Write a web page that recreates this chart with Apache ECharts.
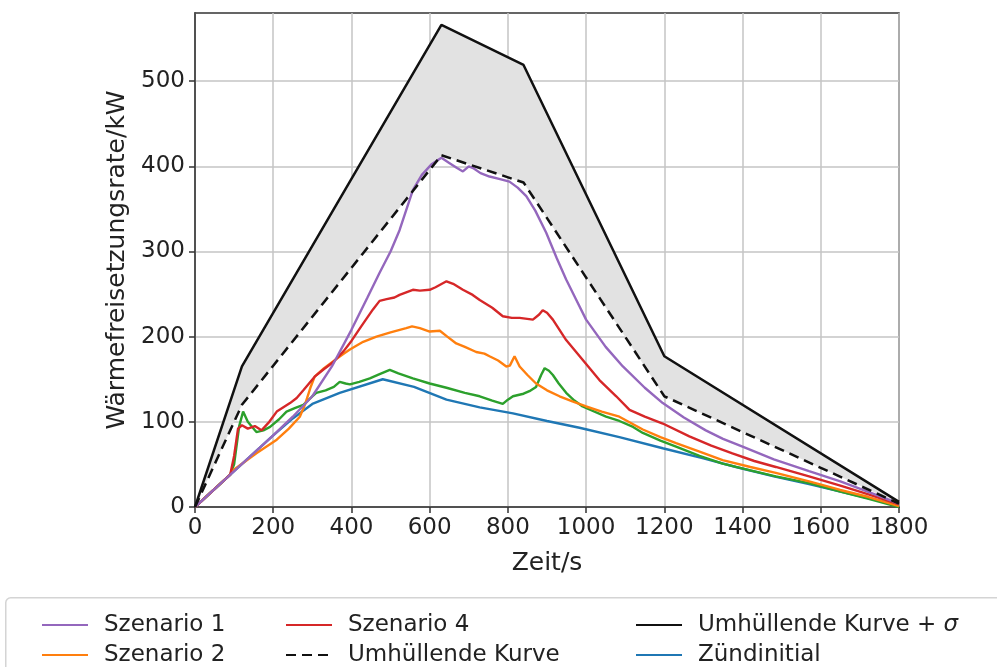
<!DOCTYPE html>
<html>
<head>
<meta charset="utf-8">
<script src="https://cdn.jsdelivr.net/npm/echarts@6/dist/echarts.min.js"></script>
<style>
  html, body { margin: 0; padding: 0; background: #fff; }
  #chart { width: 997px; height: 667px; }
</style>
</head>
<body>
<div id="chart"></div>
<script>
// Axis ticks
const xTicks = [0, 200, 400, 600, 800, 1000, 1200, 1400, 1600, 1800];
const yTicks = [0, 100, 200, 300, 400, 500];

// Heat release rate curves: [time in s, rate in kW]
const szenario1 = [[0,0],[100,42],[200,84],[250,106],[300,130],[350,165],[400,208],[440,245],[472,275],[500,300],[523,325],[557,372],[580,390],[604,402],[630,410],[650,404],[670,398],[685,394],[700,400],[711,398],[730,392],[753,388],[780,385],[804,382],[825,375],[847,365],[870,348],[898,322],[925,292],[949,267],[975,243],[1000,220],[1050,188],[1094,165],[1150,140],[1196,122],[1250,105],[1306,90],[1350,80],[1400,71],[1480,56],[1570,42],[1650,30],[1720,18],[1800,4]];

const szenario2 = [[0,0],[90,38],[100,44],[157,63],[209,79],[240,92],[268,106],[281,120],[295,140],[306,153],[330,163],[353,171],[380,180],[396,185],[430,194],[464,200],[500,205],[540,210],[555,212],[575,210],[600,206],[626,207],[645,200],[668,192],[690,188],[719,182],[740,180],[753,177],[775,172],[796,165],[805,166],[817,177],[830,165],[850,155],[872,145],[900,137],[932,130],[965,124],[1000,118],[1040,112],[1085,106],[1145,91],[1190,82],[1230,75],[1290,65],[1349,55],[1420,47],[1485,40],[1570,30],[1650,20],[1720,12],[1800,1]];

const szenario3 = [[0,0],[90,38],[100,50],[113,95],[123,112],[135,100],[157,88],[175,90],[192,94],[215,103],[234,112],[255,116],[277,120],[300,130],[310,134],[334,137],[355,141],[370,147],[385,145],[396,144],[420,147],[447,151],[472,156],[498,161],[520,157],[557,151],[600,145],[643,140],[690,134],[728,130],[760,125],[787,121],[800,126],[813,130],[840,133],[855,136],[872,141],[885,155],[894,163],[905,160],[915,155],[930,145],[949,134],[970,125],[991,118],[1051,106],[1085,101],[1120,94],[1145,87],[1190,78],[1230,71],[1290,60],[1349,51],[1420,43],[1485,36],[1570,28],[1650,18],[1720,10],[1800,0]];

const szenario4 = [[0,0],[90,38],[100,60],[110,92],[120,96],[135,92],[153,95],[170,90],[190,100],[209,112],[243,122],[260,128],[277,137],[306,153],[330,162],[353,170],[380,183],[400,195],[425,212],[455,232],[472,242],[490,244],[510,246],[523,249],[540,252],[557,255],[575,254],[600,255],[615,258],[643,265],[660,262],[685,255],[710,249],[728,243],[760,234],[787,224],[810,222],[830,222],[864,220],[880,226],[889,231],[900,228],[915,220],[949,196],[991,173],[1034,149],[1077,130],[1111,114],[1150,106],[1196,98],[1264,83],[1320,72],[1374,63],[1430,54],[1485,47],[1570,36],[1650,25],[1720,15],[1800,3]];

const zuendinitial = [[0,0],[100,42],[200,84],[250,104],[300,121],[370,134],[480,150],[560,141],[643,126],[728,117],[813,110],[900,101],[983,93],[1085,82],[1196,69],[1300,57],[1383,47],[1480,36],[1570,27],[1680,15],[1800,2]];

const umhuellende = [[0,0],[120,120],[630,413],[840,381],[1200,130],[1800,4]];
const umhuellendeSigma = [[0,0],[120,165],[630,566],[840,519],[1200,177],[1800,6]];

const FONT = 'DejaVu Sans';
const chart = echarts.init(document.getElementById('chart'), null, { renderer: 'canvas' });

function lineSeries(name, data, color, extra) {
  return Object.assign({
    name: name,
    type: 'line',
    data: data,
    symbol: 'none',
    showSymbol: false,
    silent: true,
    z: 3,
    lineStyle: { color: color, width: 2.4 },
    itemStyle: { color: color }
  }, extra || {});
}

const legendText = {
  fontFamily: FONT, fontSize: 23, color: '#222', lineHeight: 26, padding: [0, 0, 0, 11],
  rich: { i: { fontFamily: FONT, fontSize: 23, fontStyle: 'italic', color: '#222', lineHeight: 26 } }
};
const legendBase = {
  orient: 'vertical',
  top: 607,
  height: 90,
  itemWidth: 46,
  itemHeight: 14,
  itemGap: 4,
  selectedMode: false,
  itemStyle: { opacity: 0 },
  textStyle: legendText,
  formatter: function (n) { return n.replace('σ', '{i|σ}'); }
};

const plainNumber = v => String(v);

chart.setOption({
  animation: false,
  backgroundColor: '#fff',
  graphic: [{
    type: 'rect',
    left: 5, top: 597,
    shape: { width: 1010, height: 90, r: 5 },
    style: { fill: '#fff', stroke: '#d4d4d4', lineWidth: 1.5 },
    z: -1
  }],
  legend: [
    Object.assign({}, legendBase, { left: 36, data: ['Szenario 1', 'Szenario 2'] }),
    Object.assign({}, legendBase, { left: 280, data: ['Szenario 4', 'Umhüllende Kurve'] }),
    Object.assign({}, legendBase, { left: 630, data: ['Umhüllende Kurve + σ', 'Zündinitial'] })
  ],
  grid: {
    left: 195, right: 98, top: 13, bottom: 160,
    show: true, borderColor: '#333', borderWidth: 1.5, backgroundColor: 'transparent'
  },
  xAxis: {
    type: 'value', min: 0, max: 1800, interval: 200,
    name: 'Zeit/s', nameLocation: 'middle', nameGap: 44,
    nameTextStyle: { fontFamily: FONT, fontSize: 25, color: '#222' },
    axisLine: { show: true, lineStyle: { color: '#333', width: 1.5 } },
    axisTick: { show: true, length: 6, lineStyle: { color: '#333', width: 1.5 } },
    axisLabel: { fontFamily: FONT, fontSize: 23, color: '#222', margin: 10, formatter: plainNumber },
    splitLine: { show: true, lineStyle: { color: '#c4c4c4', width: 1.5 } }
  },
  yAxis: {
    type: 'value', min: 0, max: 580, interval: 100,
    name: 'Wärmefreisetzungsrate/kW', nameLocation: 'middle', nameGap: 64, nameRotate: 90,
    nameTextStyle: { fontFamily: FONT, fontSize: 25, color: '#222' },
    axisLine: { show: true, lineStyle: { color: '#333', width: 1.5 } },
    axisTick: { show: true, length: 6, customValues: yTicks, lineStyle: { color: '#333', width: 1.5 } },
    axisLabel: { fontFamily: FONT, fontSize: 23, color: '#222', margin: 10, customValues: yTicks, formatter: plainNumber },
    splitLine: { show: true, lineStyle: { color: '#c4c4c4', width: 1.5 } }
  },
  series: [
    {
      // shaded band between the envelope and envelope + sigma
      type: 'custom',
      silent: true,
      z: 1,
      data: [[0, 0]],
      renderItem: function (params, api) {
        const pts = umhuellendeSigma.map(p => api.coord(p))
          .concat(umhuellende.slice().reverse().map(p => api.coord(p)));
        return { type: 'polygon', shape: { points: pts }, style: { fill: '#e2e2e2' } };
      }
    },
    lineSeries('Zündinitial', zuendinitial, '#1f77b4'),
    lineSeries('Szenario 3', szenario3, '#2ca02c'),
    lineSeries('Szenario 2', szenario2, '#ff7f0e'),
    lineSeries('Szenario 4', szenario4, '#d62728'),
    lineSeries('Szenario 1', szenario1, '#9467bd'),
    lineSeries('Umhüllende Kurve', umhuellende, '#111', {
      z: 4, lineStyle: { color: '#111', width: 2.5, type: [10, 6] }
    }),
    lineSeries('Umhüllende Kurve + σ', umhuellendeSigma, '#111', {
      z: 4, lineStyle: { color: '#111', width: 2.5 }
    })
  ]
});
</script>
</body>
</html>
